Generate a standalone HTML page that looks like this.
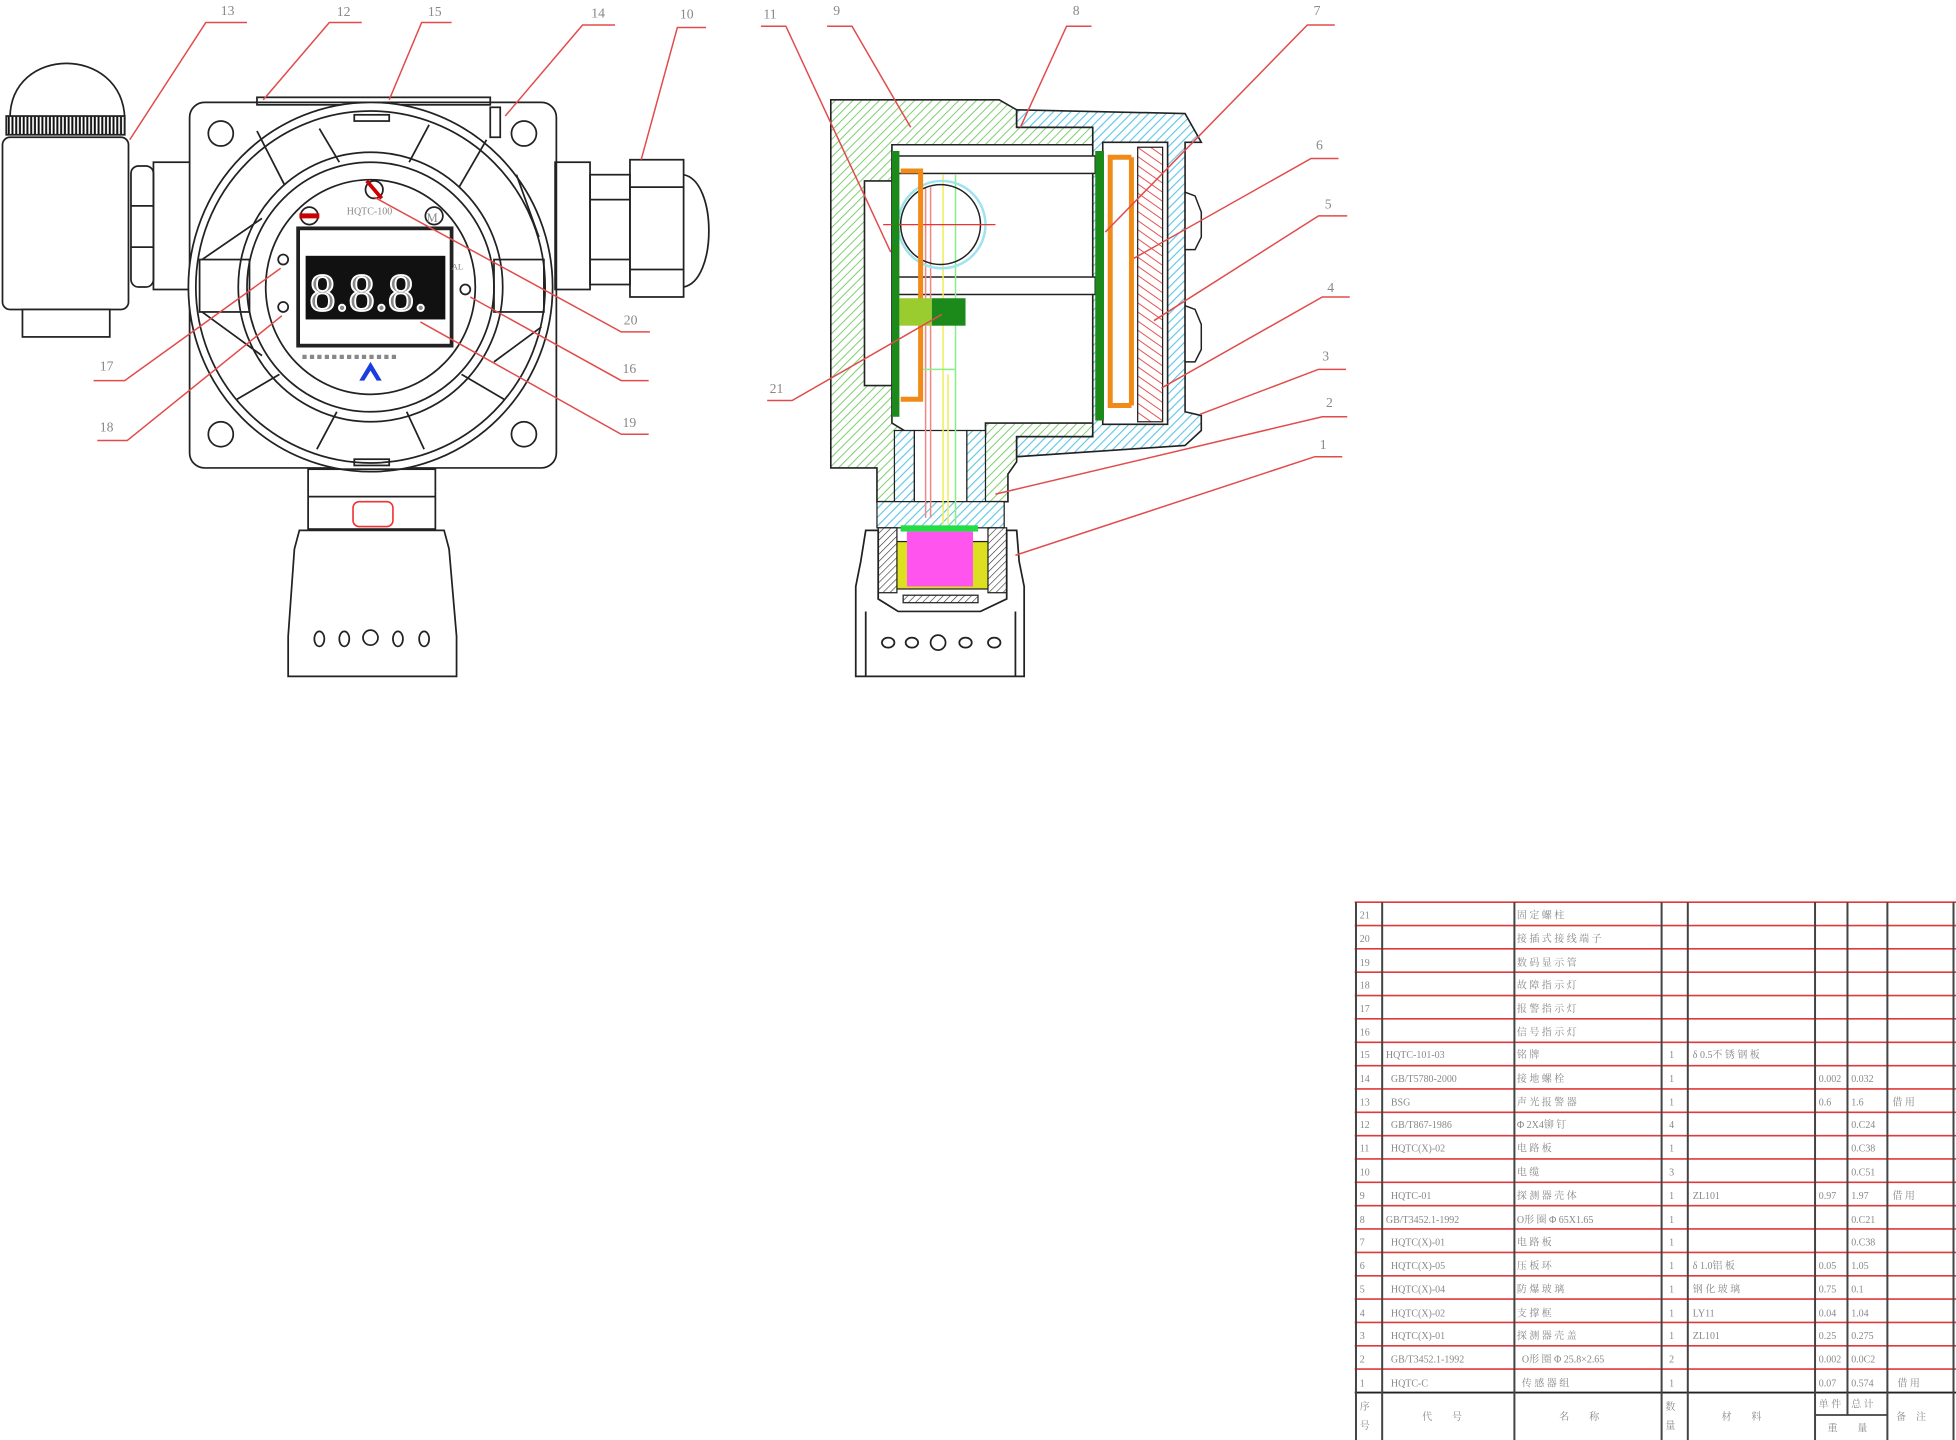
<!DOCTYPE html>
<html><head><meta charset="utf-8"><style>
html,body{margin:0;padding:0;background:#fff;}
svg{display:block;}
text{font-family:"Liberation Serif","Noto Serif CJK SC",serif;fill:#888;}
</style></head><body>
<svg width="1956" height="1440" viewBox="0 0 1568 1154" preserveAspectRatio="none" xmlns="http://www.w3.org/2000/svg">
<defs>
<pattern id="hg" width="5" height="5" patternUnits="userSpaceOnUse" patternTransform="rotate(45)"><rect width="5" height="5" fill="#fff"/><line x1="0" y1="0" x2="0" y2="5" stroke="#7ccf6e" stroke-width="1.6"/></pattern>
<pattern id="hb" width="5" height="5" patternUnits="userSpaceOnUse" patternTransform="rotate(45)"><rect width="5" height="5" fill="#fff"/><line x1="0" y1="0" x2="0" y2="5" stroke="#5cc6e6" stroke-width="1.8"/></pattern>
<pattern id="hr" width="6" height="6" patternUnits="userSpaceOnUse" patternTransform="rotate(-55)"><rect width="6" height="6" fill="#fff"/><line x1="0" y1="0" x2="0" y2="6" stroke="#e23a3a" stroke-width="1.4"/></pattern>
<pattern id="ht" width="4" height="4" patternUnits="userSpaceOnUse" patternTransform="rotate(45)"><rect width="4" height="4" fill="#fff"/><line x1="0" y1="0" x2="0" y2="4" stroke="#333" stroke-width="1"/></pattern>
<pattern id="hv" width="3" height="4" patternUnits="userSpaceOnUse"><rect width="3" height="4" fill="#fff"/><line x1="1" y1="0" x2="1" y2="4" stroke="#111" stroke-width="1.6"/></pattern>
</defs>

<!-- ===== LEFT FRONT VIEW ===== -->
<g fill="none" stroke="#222" stroke-width="1.4">
 <path d="M8,95 C8,36 98,36 100,95 Z" fill="#fff"/>
 <rect x="5" y="93" width="95" height="15" fill="url(#hv)"/>
 <rect x="2" y="110" width="101" height="138" rx="6" fill="#fff"/>
 <rect x="18" y="248" width="70" height="22" fill="#fff"/>
 <rect x="105" y="133" width="18" height="97" rx="6"/>
 <line x1="105" y1="165" x2="123" y2="165"/><line x1="105" y1="198" x2="123" y2="198"/>
 <rect x="123" y="130" width="32" height="102"/>
 <rect x="152" y="82" width="294" height="293" rx="12" fill="#fff"/>
 <rect x="206" y="78" width="187" height="6"/>
 <rect x="393" y="86" width="8" height="24"/>
 <circle cx="177" cy="107" r="10"/><circle cx="420" cy="107" r="10"/>
 <circle cx="177" cy="348" r="10"/><circle cx="420" cy="348" r="10"/>
 <rect x="445" y="130" width="28" height="102"/>
 <rect x="473" y="140" width="32" height="88"/>
 <line x1="473" y1="160" x2="505" y2="160"/><line x1="473" y1="208" x2="505" y2="208"/>
 <rect x="505" y="128" width="43" height="110"/>
 <path d="M548,140 C575,145 575,225 548,230"/>
 <line x1="505" y1="150" x2="548" y2="150"/><line x1="505" y1="216" x2="548" y2="216"/>
 <ellipse cx="297" cy="230" rx="146" ry="148" fill="#fff"/>
 <ellipse cx="297" cy="230" rx="140" ry="141"/>
 <ellipse cx="297" cy="230" rx="106" ry="108"/>
 <ellipse cx="297" cy="230" rx="99" ry="100"/>
 <ellipse cx="297" cy="230" rx="84" ry="86"/>
 <path d="M206,105 L228,148 M256,103 L272,130 M344,100 L328,130 M390,112 L368,150 M414,140 L432,190 M162,208 L210,175 M162,250 L210,285 M190,320 L224,300 M254,360 L270,330 M340,360 L326,330 M404,320 L370,300 M434,262 L396,290"/>
 <rect x="160" y="208" width="40" height="42"/><rect x="396" y="208" width="40" height="42"/>
 <rect x="284" y="92" width="28" height="5"/><rect x="284" y="368" width="28" height="5"/>
 <rect x="239" y="183" width="123" height="94" stroke-width="3" fill="#fff"/>
 <rect x="245" y="205" width="112" height="51" fill="#111" stroke="none"/>
 <circle cx="300" cy="152" r="7"/><circle cx="348" cy="173" r="7"/><circle cx="248" cy="173" r="7"/>
 <circle cx="227" cy="208" r="4"/><circle cx="227" cy="246" r="4"/><circle cx="373" cy="232" r="4"/>
 <rect x="247" y="376" width="102" height="48"/>
 <line x1="247" y1="398" x2="349" y2="398"/>
 <path d="M240,425 L356,425 L360,440 L366,510 L366,542 L231,542 L231,510 L236,440 Z" fill="#fff"/>
</g>
<rect x="283" y="402" width="32" height="20" rx="5" fill="none" stroke="#e33" stroke-width="1.3"/>
<line x1="294" y1="145" x2="306" y2="159" stroke="#c00" stroke-width="3"/>
<rect x="240" y="171" width="16" height="4" fill="#c00"/>
<text x="342" y="178" font-size="10" fill="#333">M</text>
<text x="278" y="172" font-size="8">HQTC-100</text>
<text x="248" y="249" font-size="42" font-family="Liberation Sans,sans-serif" fill="none" stroke="#fff" stroke-width="1.5">8.8.8.</text>
<text x="242" y="288" font-size="7" fill="#333">■ ■ ■ ■ ■ ■ ■ ■ ■ ■ ■ ■ ■</text>
<path d="M288,305 L297,290 L306,305 L302,305 L297,297 L292,305Z" fill="#1a3de0"/>
<text x="362" y="216" font-size="7">AL</text>
<g fill="none" stroke="#222" stroke-width="1.4">
 <ellipse cx="256" cy="512" rx="4" ry="6"/><ellipse cx="276" cy="512" rx="4" ry="6"/><ellipse cx="297" cy="511" rx="6" ry="6"/><ellipse cx="319" cy="512" rx="4" ry="6"/><ellipse cx="340" cy="512" rx="4" ry="6"/>
</g>

<!-- ===== RIGHT SECTION VIEW ===== -->
<path fill-rule="evenodd" fill="url(#hg)" stroke="#222" stroke-width="1.3" d="M666,80 L801,80 L815,88 L815,102 L876,102 L876,350 L815,350 L815,370 L808,380 L808,402 L703,402 L703,375 L666,375 Z M715,116 L876,116 L876,339 L790,339 L790,350 L733,350 L715,339 Z M693,145 L716,145 L716,309 L693,309 Z"/>
<path fill-rule="evenodd" fill="url(#hb)" stroke="#222" stroke-width="1.3" d="M815,88 L950,91 L963,114 L950,114 L950,330 L963,333 L963,345 L950,357 L815,366 L815,350 L876,350 L876,102 L815,102 Z M884,114 L936,114 L936,340 L884,340 Z"/>
<rect x="912" y="118" width="20" height="220" fill="url(#hr)" stroke="#222"/>
<g fill="#fff" stroke="#222" stroke-width="1.2">
 <path d="M950,154 L958,157 L963,170 L963,190 L958,200 L950,200 Z"/>
 <path d="M950,245 L958,248 L963,260 L963,280 L958,290 L950,290 Z"/>
 <rect x="720" y="125" width="158" height="14"/><rect x="720" y="222" width="158" height="14"/>
</g>
<path fill="url(#hb)" stroke="#222" d="M717,345 L733,345 L733,402 L717,402Z M775,345 L790,345 L790,402 L775,402Z"/>
<rect x="733" y="345" width="42" height="57" fill="#fff" stroke="#222"/>
<rect x="703" y="402" width="102" height="21" fill="url(#hb)" stroke="#222"/>
<g stroke-width="1.2" fill="none">
 <path d="M742,150 L742,415 M746,150 L746,415" stroke="#e88"/>
 <path d="M756,140 L756,420 M760,300 L760,420" stroke="#ee5"/>
 <path d="M766,140 L766,420 M766,296 L740,296" stroke="#8e8"/>
</g>
<ellipse cx="755" cy="180" rx="35" ry="35" fill="none" stroke="#9de4ef" stroke-width="2"/>
<ellipse cx="754" cy="180" rx="32" ry="32" fill="none" stroke="#222" stroke-width="1.2"/>
<line x1="708" y1="180" x2="798" y2="180" stroke="#e33"/>
<rect x="715" y="121" width="6" height="213" fill="#1b8a1b"/>
<rect x="878" y="121" width="7" height="216" fill="#1b8a1b"/>
<path d="M722,137 L738,137 L738,320 L722,320" fill="none" stroke="#f08a18" stroke-width="4"/>
<path d="M907,126 L890,126 L890,325 L907,325 M907,126 L907,325" fill="none" stroke="#f08a18" stroke-width="4"/>
<rect x="721" y="239" width="26" height="22" fill="#9acc30"/>
<rect x="747" y="239" width="27" height="22" fill="#1b8a1b"/>
<rect x="715" y="434" width="79" height="38" fill="#dde020" stroke="#222"/>
<rect x="722" y="421" width="62" height="5" fill="#22dd44"/>
<rect x="727" y="426" width="53" height="44" fill="#ff55ee"/>
<rect x="704" y="423" width="15" height="52" fill="url(#ht)" stroke="#222"/>
<rect x="792" y="423" width="15" height="52" fill="url(#ht)" stroke="#222"/>
<rect x="724" y="477" width="60" height="6" fill="url(#ht)" stroke="#222"/>
<g fill="none" stroke="#222" stroke-width="1.4">
 <path d="M694,425 L704,425 L704,480 L720,490 L786,490 L807,480 L807,425 L815,425 L817,450 L821,470 L821,542 L686,542 L686,470 L690,450 Z"/>
 <path d="M694,490 L694,542 M814,490 L814,542"/>
 <ellipse cx="712" cy="515" rx="5" ry="4"/><ellipse cx="731" cy="515" rx="5" ry="4"/><ellipse cx="752" cy="515" rx="6" ry="6"/><ellipse cx="774" cy="515" rx="5" ry="4"/><ellipse cx="797" cy="515" rx="5" ry="4"/>
</g>

<!-- ===== LEADERS ===== -->
<g stroke="#e24b4b" stroke-width="1.2" fill="none">
 <path d="M104,112 L165,18 L198,18"/><path d="M211,80 L264,18 L290,18"/><path d="M312,80 L338,18 L362,18"/>
 <path d="M405,93 L467,20 L493,20"/><path d="M514,128 L543,22 L566,22"/>
 <path d="M300,158 L498,266 L521,266"/><path d="M377,238 L498,305 L520,305"/><path d="M337,258 L498,348 L520,348"/>
 <path d="M225,215 L100,305 L75,305"/><path d="M226,253 L102,353 L78,353"/>
 <path d="M714,202 L630,21 L610,21"/><path d="M730,102 L683,21 L663,21"/><path d="M818,102 L855,21 L875,21"/>
 <path d="M886,186 L1048,20 L1070,20"/><path d="M909,207 L1051,127 L1073,127"/><path d="M925,257 L1057,173 L1080,173"/>
 <path d="M931,311 L1060,238 L1082,238"/><path d="M962,332 L1057,296 L1079,296"/><path d="M798,396 L1060,334 L1080,334"/>
 <path d="M814,445 L1054,366 L1076,366"/><path d="M755,252 L635,321 L615,321"/>
</g>
<g font-size="11">
 <text x="177" y="12">13</text><text x="270" y="13">12</text><text x="343" y="13">15</text><text x="474" y="14">14</text><text x="545" y="15">10</text>
 <text x="500" y="260">20</text><text x="499" y="299">16</text><text x="499" y="342">19</text><text x="80" y="297">17</text><text x="80" y="346">18</text>
 <text x="612" y="15">11</text><text x="668" y="12">9</text><text x="860" y="12">8</text><text x="1053" y="12">7</text><text x="1055" y="120">6</text>
 <text x="1062" y="167">5</text><text x="1064" y="234">4</text><text x="1060" y="289">3</text><text x="1063" y="326">2</text><text x="1058" y="360">1</text><text x="617" y="315">21</text>
</g>

<!-- ===== TABLE ===== -->
<g stroke="#e03a3a" stroke-width="1.3">
 <line x1="1086" y1="723" x2="1568" y2="723"/><line x1="1086" y1="741.7" x2="1568" y2="741.7"/><line x1="1086" y1="760.4" x2="1568" y2="760.4"/><line x1="1086" y1="779.1" x2="1568" y2="779.1"/><line x1="1086" y1="797.8" x2="1568" y2="797.8"/><line x1="1086" y1="816.5" x2="1568" y2="816.5"/><line x1="1086" y1="835.3" x2="1568" y2="835.3"/><line x1="1086" y1="854" x2="1568" y2="854"/><line x1="1086" y1="872.7" x2="1568" y2="872.7"/><line x1="1086" y1="891.4" x2="1568" y2="891.4"/><line x1="1086" y1="910.1" x2="1568" y2="910.1"/><line x1="1086" y1="928.8" x2="1568" y2="928.8"/><line x1="1086" y1="947.5" x2="1568" y2="947.5"/><line x1="1086" y1="966.2" x2="1568" y2="966.2"/><line x1="1086" y1="984.9" x2="1568" y2="984.9"/><line x1="1086" y1="1003.7" x2="1568" y2="1003.7"/><line x1="1086" y1="1022.4" x2="1568" y2="1022.4"/><line x1="1086" y1="1041.1" x2="1568" y2="1041.1"/><line x1="1086" y1="1059.8" x2="1568" y2="1059.8"/><line x1="1086" y1="1078.5" x2="1568" y2="1078.5"/><line x1="1086" y1="1097.2" x2="1568" y2="1097.2"/>
</g>
<line x1="1086" y1="1116" x2="1568" y2="1116" stroke="#222" stroke-width="1.5"/>
<line x1="1455" y1="1134" x2="1513" y2="1134" stroke="#222" stroke-width="1.2"/>
<g stroke="#444" stroke-width="1.6">
 <line x1="1087" y1="723" x2="1087" y2="1154"/><line x1="1108" y1="723" x2="1108" y2="1154"/><line x1="1214" y1="723" x2="1214" y2="1154"/><line x1="1332" y1="723" x2="1332" y2="1154"/><line x1="1353" y1="723" x2="1353" y2="1154"/><line x1="1455" y1="723" x2="1455" y2="1154"/><line x1="1481" y1="723" x2="1481" y2="1134"/><line x1="1513" y1="723" x2="1513" y2="1154"/><line x1="1566" y1="723" x2="1566" y2="1154"/>
</g>
<g font-size="8" fill="#888" font-family="Liberation Serif,Noto Serif CJK SC,serif">
 <text x="1090" y="736">21</text><text x="1216" y="736">固 定 螺 柱</text>
 <text x="1090" y="755">20</text><text x="1216" y="755">接 插 式 接 线 端 子</text>
 <text x="1090" y="774">19</text><text x="1216" y="774">数 码 显 示 管</text>
 <text x="1090" y="792">18</text><text x="1216" y="792">故 障 指 示 灯</text>
 <text x="1090" y="811">17</text><text x="1216" y="811">报 警 指 示 灯</text>
 <text x="1090" y="830">16</text><text x="1216" y="830">信 号 指 示 灯</text>
 <text x="1090" y="848">15</text><text x="1111" y="848">HQTC-101-03</text><text x="1216" y="848">铭 牌</text><text x="1338" y="848">1</text><text x="1357" y="848">δ 0.5不 锈 钢 板</text>
 <text x="1090" y="867">14</text><text x="1115" y="867">GB/T5780-2000</text><text x="1216" y="867">接 地 螺 栓</text><text x="1338" y="867">1</text><text x="1458" y="867" fill="#333">0.002</text><text x="1484" y="867" fill="#333">0.032</text>
 <text x="1090" y="886">13</text><text x="1115" y="886">BSG</text><text x="1216" y="886">声 光 报 警 器</text><text x="1338" y="886">1</text><text x="1458" y="886">0.6</text><text x="1484" y="886">1.6</text><text x="1517" y="886">借 用</text>
 <text x="1090" y="904">12</text><text x="1115" y="904">GB/T867-1986</text><text x="1216" y="904">Φ 2X4铆 钉</text><text x="1338" y="904">4</text><text x="1484" y="904" fill="#333">0.C24</text>
 <text x="1090" y="923">11</text><text x="1115" y="923">HQTC(X)-02</text><text x="1216" y="923">电 路 板</text><text x="1338" y="923">1</text><text x="1484" y="923" fill="#333">0.C38</text>
 <text x="1090" y="942">10</text><text x="1216" y="942">电 缆</text><text x="1338" y="942">3</text><text x="1484" y="942" fill="#333">0.C51</text>
 <text x="1090" y="961">9</text><text x="1115" y="961">HQTC-01</text><text x="1216" y="961">探 测 器 壳 体</text><text x="1338" y="961">1</text><text x="1357" y="961">ZL101</text><text x="1458" y="961" fill="#333">0.97</text><text x="1484" y="961">1.97</text><text x="1517" y="961">借 用</text>
 <text x="1090" y="980">8</text><text x="1111" y="980">GB/T3452.1-1992</text><text x="1216" y="980">O形 圈 Φ 65X1.65</text><text x="1338" y="980">1</text><text x="1484" y="980" fill="#333">0.C21</text>
 <text x="1090" y="998">7</text><text x="1115" y="998">HQTC(X)-01</text><text x="1216" y="998">电 路 板</text><text x="1338" y="998">1</text><text x="1484" y="998" fill="#333">0.C38</text>
 <text x="1090" y="1017">6</text><text x="1115" y="1017">HQTC(X)-05</text><text x="1216" y="1017">压 板 环</text><text x="1338" y="1017">1</text><text x="1357" y="1017">δ 1.0铝 板</text><text x="1458" y="1017" fill="#333">0.05</text><text x="1484" y="1017">1.05</text>
 <text x="1090" y="1036">5</text><text x="1115" y="1036">HQTC(X)-04</text><text x="1216" y="1036">防 爆 玻 璃</text><text x="1338" y="1036">1</text><text x="1357" y="1036">钢 化 玻 璃</text><text x="1458" y="1036" fill="#333">0.75</text><text x="1484" y="1036" fill="#333">0.1</text>
 <text x="1090" y="1055">4</text><text x="1115" y="1055">HQTC(X)-02</text><text x="1216" y="1055">支 撑 框</text><text x="1338" y="1055">1</text><text x="1357" y="1055">LY11</text><text x="1458" y="1055" fill="#333">0.04</text><text x="1484" y="1055">1.04</text>
 <text x="1090" y="1073">3</text><text x="1115" y="1073">HQTC(X)-01</text><text x="1216" y="1073">探 测 器 壳 盖</text><text x="1338" y="1073">1</text><text x="1357" y="1073">ZL101</text><text x="1458" y="1073" fill="#333">0.25</text><text x="1484" y="1073" fill="#333">0.275</text>
 <text x="1090" y="1092">2</text><text x="1115" y="1092">GB/T3452.1-1992</text><text x="1220" y="1092">O形 圈 Φ 25.8×2.65</text><text x="1338" y="1092">2</text><text x="1458" y="1092" fill="#333">0.002</text><text x="1484" y="1092" fill="#333">0.0C2</text>
 <text x="1090" y="1111">1</text><text x="1115" y="1111">HQTC-C</text><text x="1220" y="1111">传 感 器 组</text><text x="1338" y="1111">1</text><text x="1458" y="1111" fill="#333">0.07</text><text x="1484" y="1111" fill="#333">0.574</text><text x="1521" y="1111">借 用</text>
 <text x="1090" y="1130">序</text><text x="1090" y="1145">号</text><text x="1140" y="1138">代　　号</text><text x="1250" y="1138">名　　称</text>
 <text x="1335" y="1130">数</text><text x="1335" y="1145">量</text><text x="1380" y="1138">材　　料</text>
 <text x="1458" y="1128">单 件</text><text x="1484" y="1128">总 计</text><text x="1465" y="1147">重　　量</text><text x="1520" y="1138">备　注</text>
</g>
</svg>
</body></html>
